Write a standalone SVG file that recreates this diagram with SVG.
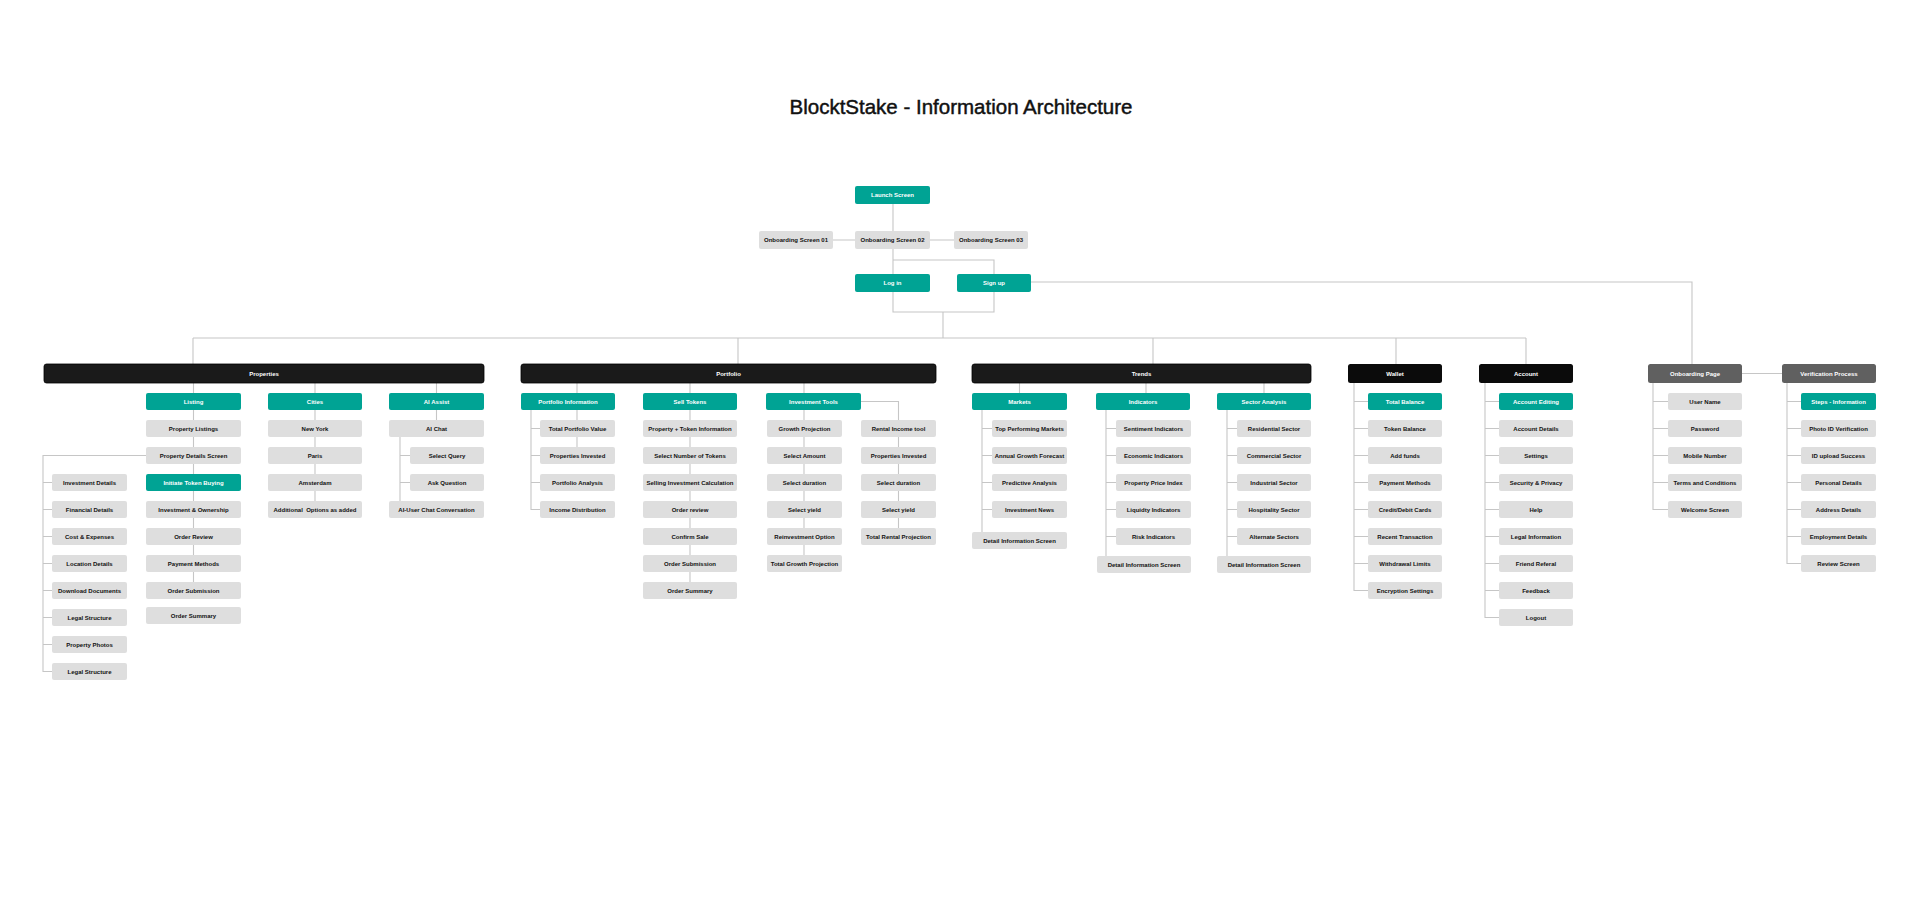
<svg xmlns="http://www.w3.org/2000/svg" width="1920" height="912" viewBox="0 0 1920 912">
<style>
.g{fill:#dedede}
.t{fill:#00a394}
.b{fill:#1a1a1a;stroke:#000;stroke-width:0.8}
.bk{fill:#0b0b0b}
.d{fill:#606060}
text{font-family:"Liberation Sans",Arial,sans-serif;font-weight:bold;font-size:6px;text-anchor:middle;white-space:pre}
.k{fill:#111}
.w{fill:#fff}
.c{fill:none;stroke:#c6c6c6;stroke-width:1.1}
</style>
<rect width="1920" height="912" fill="#fff"/>
<text x="961" y="114" style="font-size:20.5px;font-weight:normal;fill:#111;stroke:#111;stroke-width:0.45">BlocktStake - Information Architecture</text>

<g id="connectors" class="c">
<path d="M893 204V231M833 240H855M930 240H954M893 249V274M893 260H994V274M893 292V312H994V292M943 312V338M193 338H1526M193 338V364M738 338V364M1153 338V364M1396 338V364M1526 338V364M1031 282H1692V364"/>
<path d="M193.5 383V393M315 383V393M436.5 383V393M193.5 410V582M146 455.5H43V671.5H52M43 482.5H52M43 509.5H52M43 536.5H52M43 563.5H52M43 590.5H52M43 617.5H52M43 644.5H52M315 410V501M436.5 410V420M400 437V501M400 455.5H410M400 482.5H410"/>
<path d="M577 383V393M690 383V393M804 383V393M577 410V447M531 410V509.5H540M531 428.5H540M531 455.5H540M531 482.5H540M690 410V582M804 410V555M861 401.5H898.5V528"/>
<path d="M1019.5 383V393M1146 383V393M1264 383V393M982 410V532M982 428.5H992M982 455.5H992M982 482.5H992M982 509.5H992M1106 410V556M1106 428.5H1116M1106 455.5H1116M1106 482.5H1116M1106 509.5H1116M1106 536.5H1116M1227 410V556M1227 428.5H1237M1227 455.5H1237M1227 482.5H1237M1227 509.5H1237M1227 536.5H1237"/>
<path d="M1354 383V590.5H1368M1354 401.5H1368M1354 428.5H1368M1354 455.5H1368M1354 482.5H1368M1354 509.5H1368M1354 536.5H1368M1354 563.5H1368M1485 383V617.5H1499M1485 401.5H1499M1485 428.5H1499M1485 455.5H1499M1485 482.5H1499M1485 509.5H1499M1485 536.5H1499M1485 563.5H1499M1485 590.5H1499"/>
<path d="M1742 373.5H1782M1653 383V509.5H1668M1653 401.5H1668M1653 428.5H1668M1653 455.5H1668M1653 482.5H1668M1787 383V563.5H1801M1787 401.5H1801M1787 428.5H1801M1787 455.5H1801M1787 482.5H1801M1787 509.5H1801M1787 536.5H1801"/>
</g>

<g id="launch"><rect class="t" x="855" y="186" width="75" height="18" rx="2"/><text class="w" x="892.5" y="197.3">Launch Screen</text></g>
<g id="onb01"><rect class="g" x="759" y="231" width="74" height="18" rx="2"/><text class="k" x="796" y="242.3">Onboarding Screen 01</text></g>
<g id="onb02"><rect class="g" x="855" y="231" width="75" height="18" rx="2"/><text class="k" x="892.5" y="242.3">Onboarding Screen 02</text></g>
<g id="onb03"><rect class="g" x="954" y="231" width="74" height="18" rx="2"/><text class="k" x="991" y="242.3">Onboarding Screen 03</text></g>
<g id="login"><rect class="t" x="855" y="274" width="75" height="18" rx="2"/><text class="w" x="892.5" y="285.3">Log in</text></g>
<g id="signup"><rect class="t" x="957" y="274" width="74" height="18" rx="2"/><text class="w" x="994" y="285.3">Sign up</text></g>

<g id="properties"><rect class="b" x="44" y="364" width="440" height="19" rx="2.5"/><text class="w" x="264" y="375.5">Properties</text></g>
<g id="portfolio"><rect class="b" x="521" y="364" width="415" height="19" rx="2.5"/><text class="w" x="728.5" y="375.5">Portfolio</text></g>
<g id="trends"><rect class="b" x="972" y="364" width="339" height="19" rx="2.5"/><text class="w" x="1141.5" y="375.5">Trends</text></g>
<g id="wallet"><rect class="bk" x="1348" y="364" width="94" height="19" rx="2.5"/><text class="w" x="1395" y="375.5">Wallet</text></g>
<g id="account"><rect class="bk" x="1479" y="364" width="94" height="19" rx="2.5"/><text class="w" x="1526" y="375.5">Account</text></g>
<g id="onbpage"><rect class="d" x="1648" y="364" width="94" height="19" rx="2.5"/><text class="w" x="1695" y="375.5">Onboarding Page</text></g>
<g id="verif"><rect class="d" x="1782" y="364" width="94" height="19" rx="2.5"/><text class="w" x="1829" y="375.5">Verification Process</text></g>

<g id="listing"><rect class="t" x="146" y="393" width="95" height="17" rx="2"/><text class="w" x="193.5" y="403.7">Listing</text></g>
<g id="l1"><rect class="g" x="146" y="420" width="95" height="17" rx="2"/><text class="k" x="193.5" y="430.7">Property Listings</text></g>
<g id="l2"><rect class="g" x="146" y="447" width="95" height="17" rx="2"/><text class="k" x="193.5" y="457.7">Property Details Screen</text></g>
<g id="l3"><rect class="t" x="146" y="474" width="95" height="17" rx="2"/><text class="w" x="193.5" y="484.7">Initiate Token Buying</text></g>
<g id="l4"><rect class="g" x="146" y="501" width="95" height="17" rx="2"/><text class="k" x="193.5" y="511.7">Investment &amp; Ownership</text></g>
<g id="l5"><rect class="g" x="146" y="528" width="95" height="17" rx="2"/><text class="k" x="193.5" y="538.7">Order Review</text></g>
<g id="l6"><rect class="g" x="146" y="555" width="95" height="17" rx="2"/><text class="k" x="193.5" y="565.7">Payment Methods</text></g>
<g id="l7"><rect class="g" x="146" y="582" width="95" height="17" rx="2"/><text class="k" x="193.5" y="592.7">Order Submission</text></g>
<g id="l8"><rect class="g" x="146" y="607" width="95" height="17" rx="2"/><text class="k" x="193.5" y="617.7">Order Summary</text></g>

<g id="pd1"><rect class="g" x="52" y="474" width="75" height="17" rx="2"/><text class="k" x="89.5" y="484.7">Investment Details</text></g>
<g id="pd2"><rect class="g" x="52" y="501" width="75" height="17" rx="2"/><text class="k" x="89.5" y="511.7">Financial Details</text></g>
<g id="pd3"><rect class="g" x="52" y="528" width="75" height="17" rx="2"/><text class="k" x="89.5" y="538.7">Cost &amp; Expenses</text></g>
<g id="pd4"><rect class="g" x="52" y="555" width="75" height="17" rx="2"/><text class="k" x="89.5" y="565.7">Location Details</text></g>
<g id="pd5"><rect class="g" x="52" y="582" width="75" height="17" rx="2"/><text class="k" x="89.5" y="592.7">Download Documents</text></g>
<g id="pd6"><rect class="g" x="52" y="609" width="75" height="17" rx="2"/><text class="k" x="89.5" y="619.7">Legal Structure</text></g>
<g id="pd7"><rect class="g" x="52" y="636" width="75" height="17" rx="2"/><text class="k" x="89.5" y="646.7">Property Photos</text></g>
<g id="pd8"><rect class="g" x="52" y="663" width="75" height="17" rx="2"/><text class="k" x="89.5" y="673.7">Legal Structure</text></g>

<g id="cities"><rect class="t" x="268" y="393" width="94" height="17" rx="2"/><text class="w" x="315" y="403.7">Cities</text></g>
<g id="c1"><rect class="g" x="268" y="420" width="94" height="17" rx="2"/><text class="k" x="315" y="430.7">New York</text></g>
<g id="c2"><rect class="g" x="268" y="447" width="94" height="17" rx="2"/><text class="k" x="315" y="457.7">Paris</text></g>
<g id="c3"><rect class="g" x="268" y="474" width="94" height="17" rx="2"/><text class="k" x="315" y="484.7">Amsterdam</text></g>
<g id="c4"><rect class="g" x="268" y="501" width="94" height="17" rx="2"/><text class="k" x="315" y="511.7">Additional  Options as added</text></g>

<g id="ai"><rect class="t" x="389" y="393" width="95" height="17" rx="2"/><text class="w" x="436.5" y="403.7">AI Assist</text></g>
<g id="ai1"><rect class="g" x="389" y="420" width="95" height="17" rx="2"/><text class="k" x="436.5" y="430.7">AI Chat</text></g>
<g id="ai2"><rect class="g" x="410" y="447" width="74" height="17" rx="2"/><text class="k" x="447" y="457.7">Select Query</text></g>
<g id="ai3"><rect class="g" x="410" y="474" width="74" height="17" rx="2"/><text class="k" x="447" y="484.7">Ask Question</text></g>
<g id="ai4"><rect class="g" x="389" y="501" width="95" height="17" rx="2"/><text class="k" x="436.5" y="511.7">AI-User Chat Conversation</text></g>

<g id="pi"><rect class="t" x="521" y="393" width="94" height="17" rx="2"/><text class="w" x="568" y="403.7">Portfolio Information</text></g>
<g id="pi1"><rect class="g" x="540" y="420" width="75" height="17" rx="2"/><text class="k" x="577.5" y="430.7">Total Portfolio Value</text></g>
<g id="pi2"><rect class="g" x="540" y="447" width="75" height="17" rx="2"/><text class="k" x="577.5" y="457.7">Properties Invested</text></g>
<g id="pi3"><rect class="g" x="540" y="474" width="75" height="17" rx="2"/><text class="k" x="577.5" y="484.7">Portfolio Analysis</text></g>
<g id="pi4"><rect class="g" x="540" y="501" width="75" height="17" rx="2"/><text class="k" x="577.5" y="511.7">Income Distribution</text></g>

<g id="st"><rect class="t" x="643" y="393" width="94" height="17" rx="2"/><text class="w" x="690" y="403.7">Sell Tokens</text></g>
<g id="st1"><rect class="g" x="643" y="420" width="94" height="17" rx="2"/><text class="k" x="690" y="430.7">Property + Token Information</text></g>
<g id="st2"><rect class="g" x="643" y="447" width="94" height="17" rx="2"/><text class="k" x="690" y="457.7">Select Number of Tokens</text></g>
<g id="st3"><rect class="g" x="643" y="474" width="94" height="17" rx="2"/><text class="k" x="690" y="484.7">Selling Investment Calculation</text></g>
<g id="st4"><rect class="g" x="643" y="501" width="94" height="17" rx="2"/><text class="k" x="690" y="511.7">Order review</text></g>
<g id="st5"><rect class="g" x="643" y="528" width="94" height="17" rx="2"/><text class="k" x="690" y="538.7">Confirm Sale</text></g>
<g id="st6"><rect class="g" x="643" y="555" width="94" height="17" rx="2"/><text class="k" x="690" y="565.7">Order Submission</text></g>
<g id="st7"><rect class="g" x="643" y="582" width="94" height="17" rx="2"/><text class="k" x="690" y="592.7">Order Summary</text></g>

<g id="it"><rect class="t" x="766" y="393" width="95" height="17" rx="2"/><text class="w" x="813.5" y="403.7">Investment Tools</text></g>
<g id="it1"><rect class="g" x="767" y="420" width="75" height="17" rx="2"/><text class="k" x="804.5" y="430.7">Growth Projection</text></g>
<g id="it2"><rect class="g" x="767" y="447" width="75" height="17" rx="2"/><text class="k" x="804.5" y="457.7">Select Amount</text></g>
<g id="it3"><rect class="g" x="767" y="474" width="75" height="17" rx="2"/><text class="k" x="804.5" y="484.7">Select duration</text></g>
<g id="it4"><rect class="g" x="767" y="501" width="75" height="17" rx="2"/><text class="k" x="804.5" y="511.7">Select yield</text></g>
<g id="it5"><rect class="g" x="767" y="528" width="75" height="17" rx="2"/><text class="k" x="804.5" y="538.7">Reinvestment Option</text></g>
<g id="it6"><rect class="g" x="767" y="555" width="75" height="17" rx="2"/><text class="k" x="804.5" y="565.7">Total Growth Projection</text></g>
<g id="ri1"><rect class="g" x="861" y="420" width="75" height="17" rx="2"/><text class="k" x="898.5" y="430.7">Rental Income tool</text></g>
<g id="ri2"><rect class="g" x="861" y="447" width="75" height="17" rx="2"/><text class="k" x="898.5" y="457.7">Properties Invested</text></g>
<g id="ri3"><rect class="g" x="861" y="474" width="75" height="17" rx="2"/><text class="k" x="898.5" y="484.7">Select duration</text></g>
<g id="ri4"><rect class="g" x="861" y="501" width="75" height="17" rx="2"/><text class="k" x="898.5" y="511.7">Select yield</text></g>
<g id="ri5"><rect class="g" x="861" y="528" width="75" height="17" rx="2"/><text class="k" x="898.5" y="538.7">Total Rental Projection</text></g>

<g id="mk"><rect class="t" x="972" y="393" width="95" height="17" rx="2"/><text class="w" x="1019.5" y="403.7">Markets</text></g>
<g id="mk1"><rect class="g" x="992" y="420" width="75" height="17" rx="2"/><text class="k" x="1029.5" y="430.7">Top Performing Markets</text></g>
<g id="mk2"><rect class="g" x="992" y="447" width="75" height="17" rx="2"/><text class="k" x="1029.5" y="457.7">Annual Growth Forecast</text></g>
<g id="mk3"><rect class="g" x="992" y="474" width="75" height="17" rx="2"/><text class="k" x="1029.5" y="484.7">Predictive Analysis</text></g>
<g id="mk4"><rect class="g" x="992" y="501" width="75" height="17" rx="2"/><text class="k" x="1029.5" y="511.7">Investment News</text></g>
<g id="mk5"><rect class="g" x="972" y="532" width="95" height="17" rx="2"/><text class="k" x="1019.5" y="542.7">Detail Information Screen</text></g>

<g id="in"><rect class="t" x="1096" y="393" width="94" height="17" rx="2"/><text class="w" x="1143" y="403.7">Indicators</text></g>
<g id="in1"><rect class="g" x="1116" y="420" width="75" height="17" rx="2"/><text class="k" x="1153.5" y="430.7">Sentiment Indicators</text></g>
<g id="in2"><rect class="g" x="1116" y="447" width="75" height="17" rx="2"/><text class="k" x="1153.5" y="457.7">Economic Indicators</text></g>
<g id="in3"><rect class="g" x="1116" y="474" width="75" height="17" rx="2"/><text class="k" x="1153.5" y="484.7">Property Price Index</text></g>
<g id="in4"><rect class="g" x="1116" y="501" width="75" height="17" rx="2"/><text class="k" x="1153.5" y="511.7">Liquidty Indicators</text></g>
<g id="in5"><rect class="g" x="1116" y="528" width="75" height="17" rx="2"/><text class="k" x="1153.5" y="538.7">Risk Indicators</text></g>
<g id="in6"><rect class="g" x="1097" y="556" width="94" height="17" rx="2"/><text class="k" x="1144" y="566.7">Detail Information Screen</text></g>

<g id="sa"><rect class="t" x="1217" y="393" width="94" height="17" rx="2"/><text class="w" x="1264" y="403.7">Sector Analysis</text></g>
<g id="sa1"><rect class="g" x="1237" y="420" width="74" height="17" rx="2"/><text class="k" x="1274" y="430.7">Residential Sector</text></g>
<g id="sa2"><rect class="g" x="1237" y="447" width="74" height="17" rx="2"/><text class="k" x="1274" y="457.7">Commercial Sector</text></g>
<g id="sa3"><rect class="g" x="1237" y="474" width="74" height="17" rx="2"/><text class="k" x="1274" y="484.7">Industrial Sector</text></g>
<g id="sa4"><rect class="g" x="1237" y="501" width="74" height="17" rx="2"/><text class="k" x="1274" y="511.7">Hospitality Sector</text></g>
<g id="sa5"><rect class="g" x="1237" y="528" width="74" height="17" rx="2"/><text class="k" x="1274" y="538.7">Alternate Sectors</text></g>
<g id="sa6"><rect class="g" x="1217" y="556" width="94" height="17" rx="2"/><text class="k" x="1264" y="566.7">Detail Information Screen</text></g>

<g id="w0"><rect class="t" x="1368" y="393" width="74" height="17" rx="2"/><text class="w" x="1405" y="403.7">Total Balance</text></g>
<g id="w1"><rect class="g" x="1368" y="420" width="74" height="17" rx="2"/><text class="k" x="1405" y="430.7">Token Balance</text></g>
<g id="w2"><rect class="g" x="1368" y="447" width="74" height="17" rx="2"/><text class="k" x="1405" y="457.7">Add funds</text></g>
<g id="w3"><rect class="g" x="1368" y="474" width="74" height="17" rx="2"/><text class="k" x="1405" y="484.7">Payment Methods</text></g>
<g id="w4"><rect class="g" x="1368" y="501" width="74" height="17" rx="2"/><text class="k" x="1405" y="511.7">Credit/Debit Cards</text></g>
<g id="w5"><rect class="g" x="1368" y="528" width="74" height="17" rx="2"/><text class="k" x="1405" y="538.7">Recent Transaction</text></g>
<g id="w6"><rect class="g" x="1368" y="555" width="74" height="17" rx="2"/><text class="k" x="1405" y="565.7">Withdrawal Limits</text></g>
<g id="w7"><rect class="g" x="1368" y="582" width="74" height="17" rx="2"/><text class="k" x="1405" y="592.7">Encryption Settings</text></g>

<g id="a0"><rect class="t" x="1499" y="393" width="74" height="17" rx="2"/><text class="w" x="1536" y="403.7">Account Editing</text></g>
<g id="a1"><rect class="g" x="1499" y="420" width="74" height="17" rx="2"/><text class="k" x="1536" y="430.7">Account Details</text></g>
<g id="a2"><rect class="g" x="1499" y="447" width="74" height="17" rx="2"/><text class="k" x="1536" y="457.7">Settings</text></g>
<g id="a3"><rect class="g" x="1499" y="474" width="74" height="17" rx="2"/><text class="k" x="1536" y="484.7">Security &amp; Privacy</text></g>
<g id="a4"><rect class="g" x="1499" y="501" width="74" height="17" rx="2"/><text class="k" x="1536" y="511.7">Help</text></g>
<g id="a5"><rect class="g" x="1499" y="528" width="74" height="17" rx="2"/><text class="k" x="1536" y="538.7">Legal Information</text></g>
<g id="a6"><rect class="g" x="1499" y="555" width="74" height="17" rx="2"/><text class="k" x="1536" y="565.7">Friend Referal</text></g>
<g id="a7"><rect class="g" x="1499" y="582" width="74" height="17" rx="2"/><text class="k" x="1536" y="592.7">Feedback</text></g>
<g id="a8"><rect class="g" x="1499" y="609" width="74" height="17" rx="2"/><text class="k" x="1536" y="619.7">Logout</text></g>

<g id="o0"><rect class="g" x="1668" y="393" width="74" height="17" rx="2"/><text class="k" x="1705" y="403.7">User Name</text></g>
<g id="o1"><rect class="g" x="1668" y="420" width="74" height="17" rx="2"/><text class="k" x="1705" y="430.7">Password</text></g>
<g id="o2"><rect class="g" x="1668" y="447" width="74" height="17" rx="2"/><text class="k" x="1705" y="457.7">Mobile Number</text></g>
<g id="o3"><rect class="g" x="1668" y="474" width="74" height="17" rx="2"/><text class="k" x="1705" y="484.7">Terms and Conditions</text></g>
<g id="o4"><rect class="g" x="1668" y="501" width="74" height="17" rx="2"/><text class="k" x="1705" y="511.7">Welcome Screen</text></g>

<g id="v0"><rect class="t" x="1801" y="393" width="75" height="17" rx="2"/><text class="w" x="1838.5" y="403.7">Steps - Information</text></g>
<g id="v1"><rect class="g" x="1801" y="420" width="75" height="17" rx="2"/><text class="k" x="1838.5" y="430.7">Photo ID Verification</text></g>
<g id="v2"><rect class="g" x="1801" y="447" width="75" height="17" rx="2"/><text class="k" x="1838.5" y="457.7">ID upload Success</text></g>
<g id="v3"><rect class="g" x="1801" y="474" width="75" height="17" rx="2"/><text class="k" x="1838.5" y="484.7">Personal Details</text></g>
<g id="v4"><rect class="g" x="1801" y="501" width="75" height="17" rx="2"/><text class="k" x="1838.5" y="511.7">Address Details</text></g>
<g id="v5"><rect class="g" x="1801" y="528" width="75" height="17" rx="2"/><text class="k" x="1838.5" y="538.7">Employment Details</text></g>
<g id="v6"><rect class="g" x="1801" y="555" width="75" height="17" rx="2"/><text class="k" x="1838.5" y="565.7">Review Screen</text></g>
</svg>
